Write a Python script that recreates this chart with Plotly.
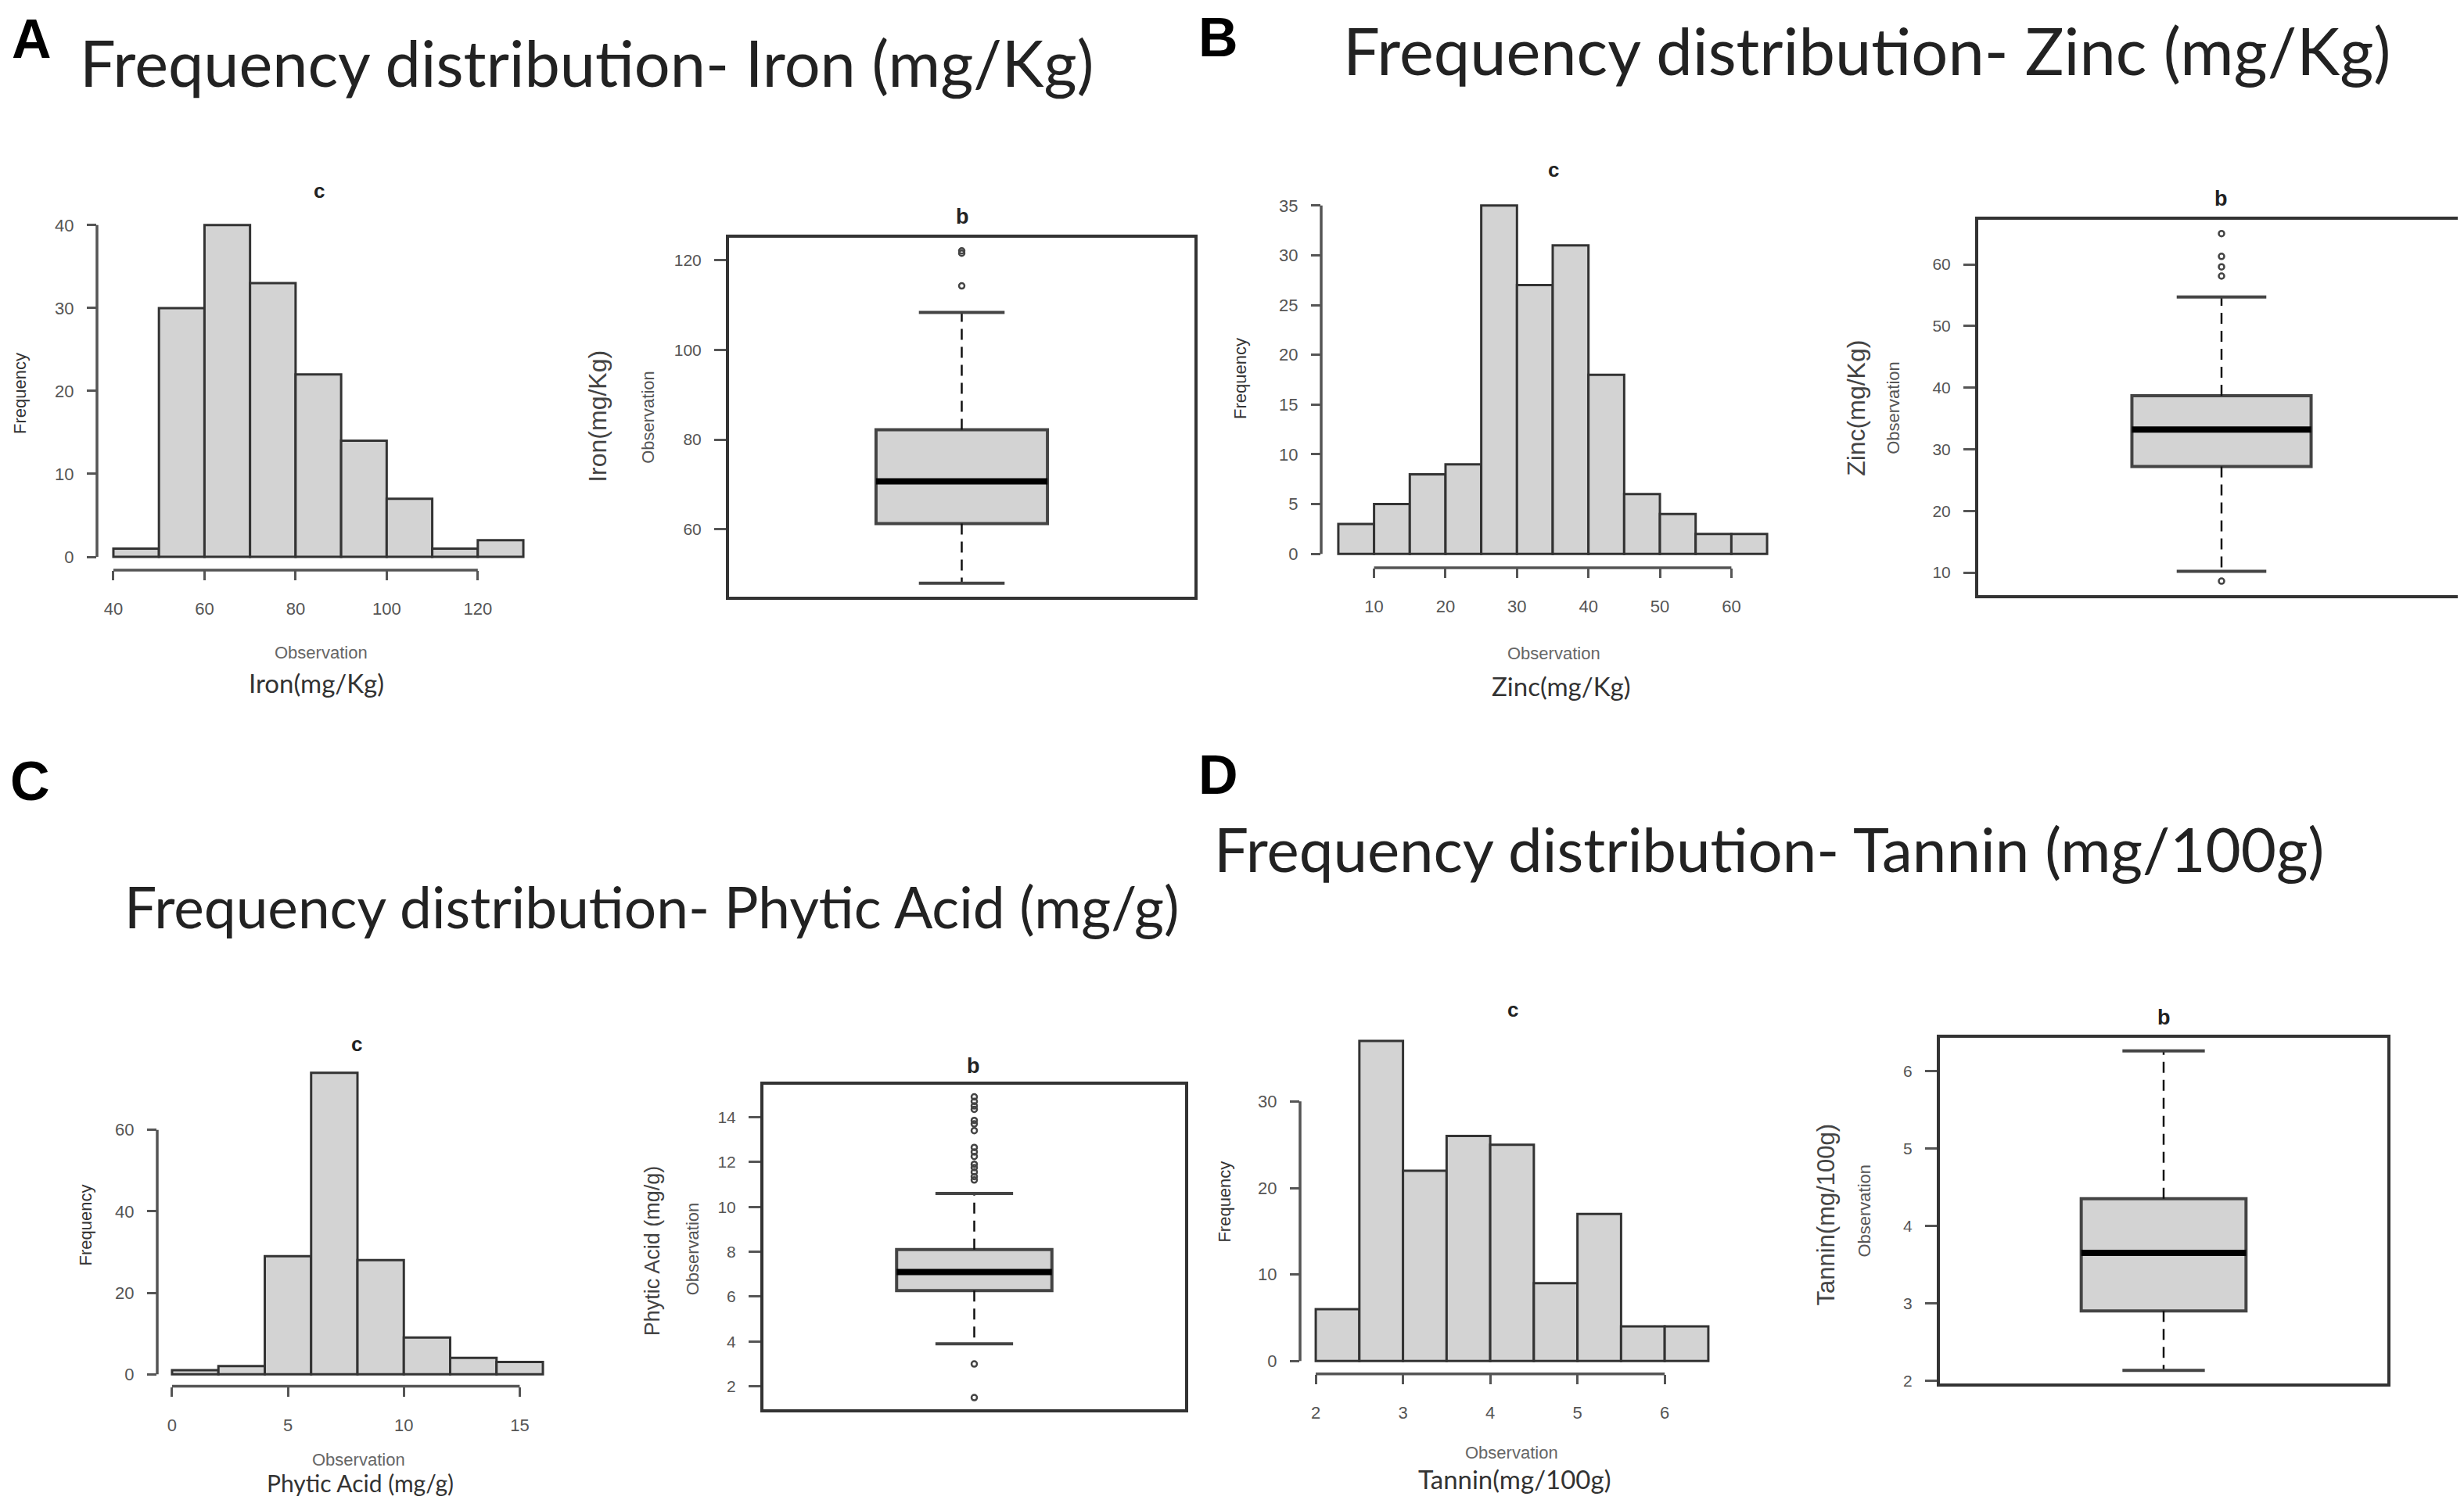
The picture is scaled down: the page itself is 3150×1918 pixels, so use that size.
import plotly.graph_objects as go

W, H = 3150, 1918

# histograms: first bin edge, bin width, counts per bin
IRON_START, IRON_STEP = 40, 10
IRON_COUNTS = [1, 30, 40, 33, 22, 14, 7, 1, 2]
ZINC_START, ZINC_STEP = 5, 5
ZINC_COUNTS = [3, 5, 8, 9, 35, 27, 31, 18, 6, 4, 2, 2]
PHYTIC_START, PHYTIC_STEP = 0, 2
PHYTIC_COUNTS = [1, 2, 29, 74, 28, 9, 4, 3]
TANNIN_START, TANNIN_STEP = 2, 0.5
TANNIN_COUNTS = [6, 37, 22, 26, 25, 9, 17, 4, 4]

# boxplots: lower whisker, Q1, median, Q3, upper whisker
IRON_BOX = [48.0, 61.3, 70.7, 82.2, 108.3]
IRON_OUT = [114.2, 121.5, 122.0]
ZINC_BOX = [10.2, 27.2, 33.2, 38.7, 54.7]
ZINC_OUT = [65.0, 61.3, 59.6, 58.1, 8.6]
PHYTIC_BOX = [3.9, 6.27, 7.1, 8.1, 10.6]
PHYTIC_OUT = [14.9, 14.7, 14.5, 14.35, 13.85, 13.7, 13.4, 12.65, 12.45, 12.25,
              11.9, 11.75, 11.55, 11.35, 11.2, 3.0, 1.5]
TANNIN_BOX = [2.13, 2.9, 3.65, 4.35, 6.26]
TANNIN_OUT = []

# tick labels
IRON_HIST_X = [40, 60, 80, 100, 120]
IRON_HIST_Y = [0, 10, 20, 30, 40]
IRON_BOX_Y = [60, 80, 100, 120]
ZINC_HIST_X = [10, 20, 30, 40, 50, 60]
ZINC_HIST_Y = [0, 5, 10, 15, 20, 25, 30, 35]
ZINC_BOX_Y = [10, 20, 30, 40, 50, 60]
PHYTIC_HIST_X = [0, 5, 10, 15]
PHYTIC_HIST_Y = [0, 20, 40, 60]
PHYTIC_BOX_Y = [2, 4, 6, 8, 10, 12, 14]
TANNIN_HIST_X = [2, 3, 4, 5, 6]
TANNIN_HIST_Y = [0, 10, 20, 30]
TANNIN_BOX_Y = [2, 3, 4, 5, 6]

LETTERS = ["A", "B", "C", "D"]
TITLES = ["Frequency distribution- Iron (mg/Kg)",
          "Frequency distribution- Zinc (mg/Kg)",
          "Frequency distribution- Phytic Acid (mg/g)",
          "Frequency distribution- Tannin (mg/100g)"]
UNITS = ["Iron(mg/Kg)", "Zinc(mg/Kg)", "Phytic Acid (mg/g)", "Tannin(mg/100g)"]

FILL = "#d3d3d3"
EDGE = "#333333"
AXC = "#555555"
TICKC = "#555555"
SANS = "Liberation Sans, Arial, sans-serif"
TITLE_FONT = "Lato, Open Sans, sans-serif"

BOX_HALF = 0.2
CAP_HALF = 0.1

fig = go.Figure()
layout = dict(width=W, height=H, autosize=False, margin=dict(l=0, r=0, t=0, b=0),
              paper_bgcolor="white", plot_bgcolor="white", showlegend=False,
              shapes=[], annotations=[])


def sfx(n):
    return "" if n == 1 else str(n)


def dom(x0, x1, y0, y1):
    return [x0 / W, x1 / W], [1 - y1 / H, 1 - y0 / H]


def ann(text, x, y, size, color="#222", family=SANS, angle=0, bold=False):
    if bold:
        text = "<b>" + text + "</b>"
    layout["annotations"].append(dict(
        text=text, x=x / W, y=1 - y / H, xref="paper", yref="paper",
        xanchor="center", yanchor="middle", showarrow=False, textangle=angle,
        font=dict(size=size, color=color, family=family)))


def add_hist(n, start, step, counts, xticks, yticks, box):
    s = sfx(n)
    centers = [start + step * (k + 0.5) for k in range(len(counts))]
    fig.add_trace(go.Bar(x=centers, y=counts, width=step,
                         marker=dict(color=FILL, line=dict(color=EDGE, width=3)),
                         xaxis="x" + s, yaxis="y" + s, hoverinfo="skip"))
    lo, hi = start, start + step * len(counts)
    pad = 0.04 * (hi - lo)
    top = max(counts)
    xd, yd = dom(*box)
    tick = dict(ticks="outside", ticklen=12, tickwidth=3, tickcolor=AXC,
                showgrid=False, zeroline=False, showline=False,
                tickfont=dict(size=22, color=TICKC, family=SANS))
    layout["xaxis" + s] = dict(domain=xd, anchor="y" + s, range=[lo - pad, hi + pad],
                               tickvals=xticks, ticklabelstandoff=18, **tick)
    layout["yaxis" + s] = dict(domain=yd, anchor="x" + s, range=[-0.04 * top, 1.04 * top],
                               tickvals=yticks, ticklabelstandoff=12, **tick)
    layout["shapes"].append(dict(type="line", xref="x" + s, yref="y%s domain" % s,
                                 x0=xticks[0], x1=xticks[-1], y0=0, y1=0,
                                 line=dict(color=AXC, width=3.5)))
    layout["shapes"].append(dict(type="line", xref="x%s domain" % s, yref="y" + s,
                                 x0=0, x1=0, y0=yticks[0], y1=yticks[-1],
                                 line=dict(color=AXC, width=3.5)))


def add_box(n, stats, outliers, yticks, box):
    s = sfx(n)
    lo, q1, med, q3, hi = stats
    common = dict(xaxis="x" + s, yaxis="y" + s, hoverinfo="skip")
    fig.add_trace(go.Box(x=[1], q1=[q1], median=[med], q3=[q3], lowerfence=[q1],
                         upperfence=[q3], width=2 * BOX_HALF, whiskerwidth=0,
                         fillcolor=FILL, line=dict(color="#444", width=4),
                         boxpoints=False, **common))
    fig.add_trace(go.Scatter(x=[1, 1, None, 1, 1], y=[q3, hi, None, q1, lo], mode="lines",
                             line=dict(color="#111", width=2.5, dash="14px,9px"), **common))
    fig.add_trace(go.Scatter(x=[1 - CAP_HALF, 1 + CAP_HALF, None, 1 - CAP_HALF, 1 + CAP_HALF],
                             y=[hi, hi, None, lo, lo], mode="lines",
                             line=dict(color="#444", width=4), **common))
    fig.add_trace(go.Scatter(x=[1 - BOX_HALF, 1 + BOX_HALF], y=[med, med], mode="lines",
                             line=dict(color="black", width=8), **common))
    if outliers:
        fig.add_trace(go.Scatter(x=[1] * len(outliers), y=outliers, mode="markers",
                                 marker=dict(symbol="circle-open", size=7, color="#444",
                                             line=dict(width=2.5, color="#444")), **common))
    vals = [lo, hi] + list(outliers)
    span = max(vals) - min(vals)
    xd, yd = dom(*box)
    frame = dict(showline=True, mirror=True, linecolor="#333", linewidth=4,
                 showgrid=False, zeroline=False)
    layout["xaxis" + s] = dict(domain=xd, anchor="y" + s, range=[1 - 0.543, 1 + 0.543],
                               ticks="", showticklabels=False, **frame)
    layout["yaxis" + s] = dict(domain=yd, anchor="x" + s,
                               range=[min(vals) - 0.04 * span, max(vals) + 0.04 * span],
                               tickvals=yticks, ticks="outside", ticklen=15, tickwidth=3,
                               tickcolor=AXC, ticklabelstandoff=12,
                               tickfont=dict(size=21, color=TICKC, family=SANS), **frame)


# panel A: iron
add_hist(1, IRON_START, IRON_STEP, IRON_COUNTS, IRON_HIST_X, IRON_HIST_Y, (116, 682, 264, 724))
add_box(2, IRON_BOX, IRON_OUT, IRON_BOX_Y, (924, 1519, 297, 758))
# panel B: zinc
add_hist(3, ZINC_START, ZINC_STEP, ZINC_COUNTS, ZINC_HIST_X, ZINC_HIST_Y, (1681, 2273, 238, 721))
add_box(4, ZINC_BOX, ZINC_OUT, ZINC_BOX_Y, (2521, 3143, 274, 756))
# panel C: phytic acid
add_hist(5, PHYTIC_START, PHYTIC_STEP, PHYTIC_COUNTS, PHYTIC_HIST_X, PHYTIC_HIST_Y, (193, 705, 1354, 1772))
add_box(6, PHYTIC_BOX, PHYTIC_OUT, PHYTIC_BOX_Y, (968, 1507, 1385, 1802))
# panel D: tannin
add_hist(7, TANNIN_START, TANNIN_STEP, TANNIN_COUNTS, TANNIN_HIST_X, TANNIN_HIST_Y, (1654, 2196, 1312, 1756))
add_box(8, TANNIN_BOX, TANNIN_OUT, TANNIN_BOX_Y, (2472, 3044, 1325, 1768))

# panel letters and titles
for letter, (x, y) in zip(LETTERS, [(32, 42), (1549, 40), (30, 995), (1549, 987)]):
    ann(letter, x, y, 70, color="black", bold=True)
for title, (x, y, size) in zip(TITLES, [(742, 72, 81), (2378, 56, 83),
                                        (825, 1156, 73), (2253, 1082, 78)]):
    ann(title, x, y, size, color="#222", family=TITLE_FONT)

# histogram labels
hist_pos = [dict(c=(400, 237), f=(18, 497), o=(402, 830), u=(397, 869), us=33),
            dict(c=(1978, 210), f=(1577, 478), o=(1978, 831), u=(1988, 873), us=33),
            dict(c=(448, 1333), f=(101, 1565), o=(450, 1866), u=(452, 1896), us=30),
            dict(c=(1926, 1288), f=(1558, 1535), o=(1924, 1857), u=(1928, 1891), us=33)]
for unit, p in zip(UNITS, hist_pos):
    ann("c", *p["c"], 26, color="#222", bold=True)
    ann("Frequency", *p["f"], 22, color="#333", angle=-90)
    ann("Observation", *p["o"], 22, color="#666")
    ann(unit, *p["u"], p["us"], color="#333", family=TITLE_FONT)

# boxplot labels
box_pos = [dict(b=(1222, 270), o=(821, 527), u=(756, 527), us=32),
           dict(b=(2831, 247), o=(2413, 516), u=(2365, 516), us=32),
           dict(b=(1236, 1361), o=(877, 1595), u=(826, 1598), us=27),
           dict(b=(2758, 1298), o=(2376, 1547), u=(2327, 1552), us=31)]
for unit, p in zip(UNITS, box_pos):
    ann("b", *p["b"], 27, color="#222", bold=True)
    ann("Observation", *p["o"], 22, color="#555", angle=-90)
    ann(unit, *p["u"], p["us"], color="#444", angle=-90)

fig.update_layout(**layout)
fig.write_html("out.html")
